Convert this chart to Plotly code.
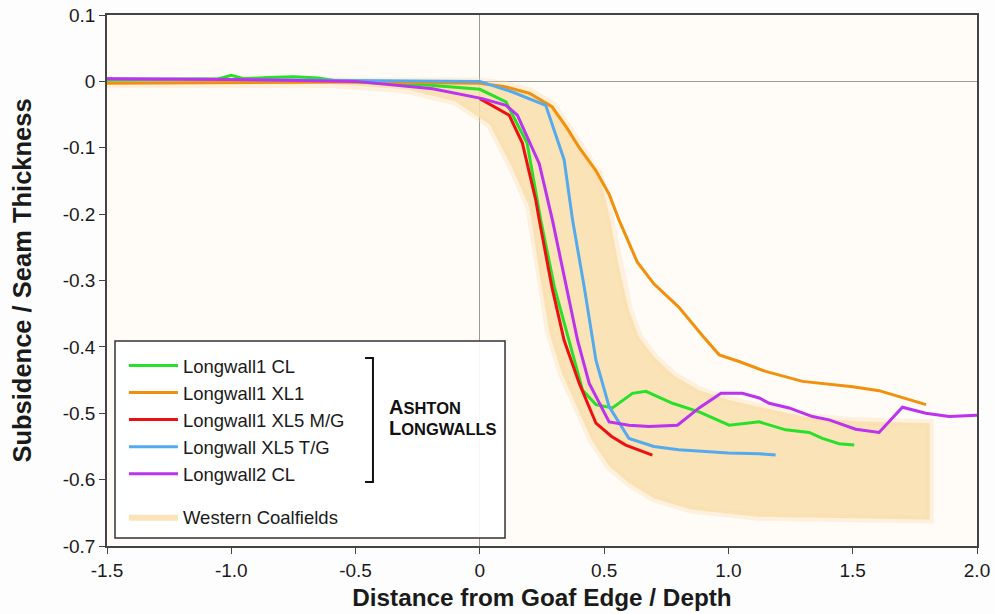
import plotly.graph_objects as go

# ---- data ----
cl1_x = [-1.5, -1.2, -1.05, -1.0, -0.95, -0.85, -0.75, -0.65, -0.56, -0.4, -0.2, 0.0, 0.105, 0.19, 0.245, 0.3, 0.359, 0.413, 0.467, 0.533, 0.614, 0.668, 0.775, 0.882, 1.003, 1.124, 1.23, 1.325, 1.378, 1.445, 1.506]
cl1_y = [0.002, 0.003, 0.004, 0.009, 0.004, 0.006, 0.007, 0.005, 0.0, -0.003, -0.006, -0.012, -0.031, -0.093, -0.209, -0.31, -0.39, -0.465, -0.487, -0.492, -0.47, -0.467, -0.485, -0.498, -0.518, -0.513, -0.525, -0.529, -0.538, -0.546, -0.548]

xl1_x = [-1.5, -1.0, -0.5, 0.0, 0.1, 0.2, 0.29, 0.35, 0.4, 0.466, 0.52, 0.56, 0.633, 0.7, 0.8, 0.9, 0.963, 1.043, 1.15, 1.298, 1.4, 1.5, 1.606, 1.7, 1.795]
xl1_y = [-0.003, -0.002, -0.001, -0.003, -0.008, -0.018, -0.038, -0.07, -0.1, -0.134, -0.17, -0.209, -0.272, -0.305, -0.34, -0.385, -0.412, -0.422, -0.437, -0.452, -0.456, -0.46, -0.466, -0.476, -0.487]

xl5mg_x = [0.0, 0.024, 0.118, 0.171, 0.225, 0.239, 0.29, 0.339, 0.4, 0.467, 0.53, 0.587, 0.694]
xl5mg_y = [-0.026, -0.031, -0.051, -0.093, -0.179, -0.209, -0.31, -0.39, -0.455, -0.515, -0.535, -0.548, -0.563]

xl5tg_x = [-1.5, -1.0, -0.5, 0.0, 0.131, 0.265, 0.339, 0.373, 0.42, 0.467, 0.52, 0.6, 0.7, 0.8, 1.0, 1.124, 1.19]
xl5tg_y = [0.004, 0.003, 0.002, 0.0, -0.016, -0.036, -0.118, -0.209, -0.31, -0.42, -0.49, -0.538, -0.55, -0.555, -0.56, -0.561, -0.563]

lw2_x = [-1.5, -1.0, -0.5, -0.19, 0.01, 0.105, 0.151, 0.239, 0.292, 0.35, 0.393, 0.44, 0.52, 0.6, 0.681, 0.795, 0.882, 0.97, 1.056, 1.124, 1.164, 1.244, 1.338, 1.405, 1.512, 1.606, 1.7, 1.794, 1.888, 2.0]
lw2_y = [0.004, 0.003, 0.0, -0.011, -0.026, -0.036, -0.051, -0.124, -0.209, -0.31, -0.39, -0.455, -0.513, -0.518, -0.52, -0.518, -0.492, -0.47, -0.47, -0.477, -0.485, -0.492, -0.505, -0.51, -0.524, -0.529, -0.491, -0.5, -0.505, -0.503]

# Western Coalfields envelope (upper edge left->right, lower edge right->left)
band_upper_x = [-1.5, -0.5, 0.0, 0.1, 0.2, 0.29, 0.35, 0.4, 0.45, 0.48, 0.52, 0.56, 0.6, 0.64, 0.7, 0.78, 0.88, 1.0, 1.12, 1.3, 1.5, 1.81]
band_upper_y = [0.0, 0.0, 0.0, -0.005, -0.015, -0.035, -0.065, -0.095, -0.125, -0.14, -0.2, -0.28, -0.345, -0.385, -0.415, -0.443, -0.465, -0.48, -0.49, -0.505, -0.512, -0.515]
band_lower_x = [1.81, 1.12, 0.85, 0.7, 0.6, 0.52, 0.45, 0.39, 0.33, 0.28, 0.24, 0.2, 0.13, 0.04, -0.1, -0.3, -0.6, -1.5]
band_lower_y = [-0.66, -0.656, -0.645, -0.628, -0.605, -0.58, -0.54, -0.49, -0.44, -0.38, -0.29, -0.19, -0.13, -0.065, -0.03, -0.012, -0.004, -0.004]

x_ticks = [-1.5, -1.0, -0.5, 0, 0.5, 1.0, 1.5, 2.0]
x_ticktext = ["-1.5", "-1.0", "-0.5", "0", "0.5", "1.0", "1.5", "2.0"]
y_ticks = [0.1, 0, -0.1, -0.2, -0.3, -0.4, -0.5, -0.6, -0.7]
y_ticktext = ["0.1", "0", "-0.1", "-0.2", "-0.3", "-0.4", "-0.5", "-0.6", "-0.7"]

series = [
    ("Longwall1 CL", cl1_x, cl1_y, "#27e02a"),
    ("Longwall1 XL1", xl1_x, xl1_y, "#f0900c"),
    ("Longwall1 XL5 M/G", xl5mg_x, xl5mg_y, "#ec1010"),
    ("Longwall XL5 T/G", xl5tg_x, xl5tg_y, "#55aaee"),
    ("Longwall2 CL", lw2_x, lw2_y, "#bb33ee"),
]

fig = go.Figure()

band_x = band_upper_x + band_lower_x
band_y = band_upper_y + band_lower_y
# soft halo to mimic the blurred envelope edge
fig.add_trace(go.Scatter(
    x=band_x, y=band_y, fill="toself", mode="lines",
    line=dict(width=8, color="rgba(249,222,172,0.35)"),
    fillcolor="rgba(249,222,172,0.0)", showlegend=False, hoverinfo="skip",
))
fig.add_trace(go.Scatter(
    x=band_x, y=band_y, fill="toself", mode="lines",
    line=dict(width=0, color="rgba(249,222,172,0)"),
    fillcolor="rgba(249,222,172,0.85)",
    name="Western Coalfields", legendgroup="b", legendrank=1000,
    hoverinfo="skip",
))

for i, (name, xs, ys, col) in enumerate(series):
    fig.add_trace(go.Scatter(
        x=xs, y=ys, mode="lines", name=name,
        line=dict(color=col, width=3),
        legendgroup="a", legendrank=i + 1,
    ))

axis_common = dict(
    showgrid=False, showline=True, linecolor="#444", linewidth=1.5, mirror=True,
    ticks="outside", ticklen=6, tickwidth=1.2, tickcolor="#444",
    zeroline=True, zerolinecolor="#9a9a9a", zerolinewidth=1,
    automargin=False,
    tickfont=dict(family="Liberation Sans, Arial", size=19, color="#1a1a1a"),
)

fig.update_layout(
    width=995, height=614,
    margin=dict(l=107, r=18, t=15, b=68),
    paper_bgcolor="#fdfdfd", plot_bgcolor="#fffbf6",
    font=dict(family="Liberation Sans, Arial", color="#1a1a1a"),
    xaxis=dict(range=[-1.5, 2.0], tickvals=x_ticks, ticktext=x_ticktext,
               title=dict(text="<b>Distance from Goaf Edge / Depth</b>", font=dict(size=24.3), standoff=9),
               **axis_common),
    yaxis=dict(range=[-0.7, 0.1], tickvals=y_ticks, ticktext=y_ticktext,
               title=dict(text="<b>Subsidence / Seam Thickness</b>", font=dict(size=25.5), standoff=24),
               **axis_common),
    showlegend=True,
    legend=dict(
        x=0.0195, y=0.3748, xanchor="left", yanchor="top",
        bgcolor="rgba(0,0,0,0)", borderwidth=0,
        font=dict(size=18.5, color="#1a1a1a"),
        traceorder="grouped", tracegroupgap=16, itemwidth=49,
    ),
)

# legend frame
fig.add_shape(type="rect", xref="paper", yref="paper",
              x0=0.0092, x1=0.4575, y0=0.015, y1=0.386,
              line=dict(color="#333", width=1.5), fillcolor="rgba(255,255,255,0.92)", layer="above")
# bracket
fig.add_shape(type="path", xref="paper", yref="paper",
              path="M 0.2966 0.354 L 0.3057 0.354 L 0.3057 0.1205 L 0.2966 0.1205",
              line=dict(color="#111", width=2))
fig.add_annotation(
    xref="paper", yref="paper", x=0.3218, y=0.2618, xanchor="left", yanchor="middle",
    text="<b>A<span style='font-size:16.5px'>SHTON</span></b>",
    showarrow=False, align="left", font=dict(size=20, color="#111"),
)
fig.add_annotation(
    xref="paper", yref="paper", x=0.3218, y=0.2222, xanchor="left", yanchor="middle",
    text="<b>L<span style='font-size:16.5px'>ONGWALLS</span></b>",
    showarrow=False, align="left", font=dict(size=20, color="#111"),
)

fig.write_html("out.html")
